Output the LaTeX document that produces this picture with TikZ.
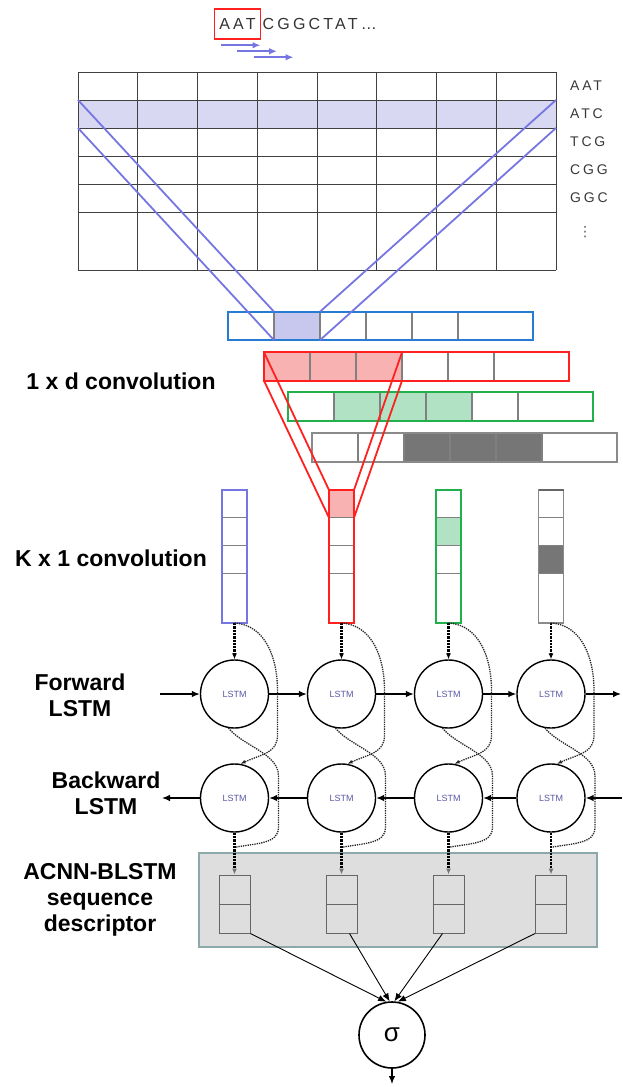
\documentclass[tikz,border=0pt]{standalone}
\usepackage{fontspec}
\setmainfont{Liberation Sans}
\newfontfamily\seqfont[LetterSpace=20]{Liberation Sans}
\newfontfamily\symfont{DejaVu Sans}
\usetikzlibrary{arrows.meta,positioning,calc}

\definecolor{convblue}{RGB}{38,124,210}
\definecolor{projblue}{RGB}{118,118,226}
\definecolor{rowfill}{RGB}{216,216,242}
\definecolor{cellblue}{RGB}{200,200,238}
\definecolor{convred}{RGB}{255,32,32}
\definecolor{cellred}{RGB}{248,178,178}
\definecolor{convgreen}{RGB}{34,176,76}
\definecolor{cellgreen}{RGB}{178,226,196}
\definecolor{convgray}{RGB}{138,138,138}
\definecolor{cellgray}{RGB}{118,118,118}
\definecolor{descfill}{RGB}{222,222,222}
\definecolor{descedge}{RGB}{140,168,168}
\definecolor{lstmtext}{RGB}{88,88,165}

\begin{document}
\begin{tikzpicture}[
  x=1pt, y=-1pt,
  >={Latex[length=8pt,width=6.5pt]},
  sidetext/.style={font=\fontsize{23}{26}\selectfont\bfseries, align=center},
  kmer/.style={font=\seqfont\fontsize{14}{14}\selectfont, text=black!78, anchor=west, inner sep=0pt},
  gridline/.style={draw=black!75, line width=1pt},
  divider/.style={draw=black!50, line width=1.4pt},
  proj/.style={draw=#1, line width=1.8pt},
  vecbox/.style={draw=#1, line width=2.2pt, minimum width=305pt, minimum height=28.4pt,
    inner sep=0pt, outer sep=0pt, anchor=north west},
  hitcell/.style={fill=#1, minimum height=28.4pt, inner sep=0pt, outer sep=0pt, anchor=north west},
  kcol/.style={draw=#1, line width=1.8pt, minimum width=25pt, minimum height=133pt,
    inner sep=0pt, outer sep=0pt, anchor=north},
  khit/.style={fill=#1, minimum width=25pt, minimum height=27.7pt, inner sep=0pt, outer sep=0pt, anchor=north},
  lstm/.style={circle, draw, line width=1.4pt, minimum size=68pt, inner sep=0pt,
    text=lstmtext, font=\fontsize{9}{9}\selectfont},
  flow/.style={->, line width=1.2pt},
  feeddot/.style={densely dotted, line width=2.3pt},
  bypass/.style={densely dotted, line width=1.3pt, black!85},
  pair/.style={draw=black!60, line width=1pt, minimum width=31pt, minimum height=58pt, inner sep=0pt}
]
\useasboundingbox (0,0) rectangle (622,1087);

% input sequence and sliding window
\node[font=\seqfont\fontsize{16}{16}\selectfont, text=black!80, draw=convred, line width=1.5pt,
  inner xsep=5pt, minimum height=30pt] (codon) at (237.5,24) {AAT};
\node[font=\seqfont\fontsize{16}{16}\selectfont, text=black!80, right=0pt of codon, inner xsep=1pt] (rest) {CGGCTAT\dots};
\foreach \i in {0,1,2}
  \draw[->, projblue, line width=1.6pt] ($(codon.south west)+(7+16.5*\i,5.5+6*\i)$) -- ++(40,0);

% embedding grid
\node[fill=rowfill, minimum width=478pt, minimum height=28pt, inner sep=0pt, outer sep=0pt,
  anchor=north west] (win) at (78,100) {};
\foreach \gx in {0,...,8}
  \draw[gridline] (78+59.75*\gx,72) -- (78+59.75*\gx,270);
\foreach \gy in {72,100,128,156,184,212,270}
  \draw[gridline] (78,\gy) -- (556,\gy);
\foreach \w [count=\i] in {AAT,ATC,TCG,CGG,GGC}
  \node[kmer] (k\i) at (570,{86+28*(\i-1)}) {\w};
\node[font=\symfont\fontsize{14}{14}\selectfont, text=black!65, inner sep=0pt] (kdots) at (585,232) {⋮};

% convolution rows
\foreach \vn/\vx/\vy/\vc/\sa/\sb/\fc in {bv/228/311.7/convblue/1/1/cellblue,
    rv/264/352.3/convred/0/2/cellred, gv/288/392.3/convgreen/1/3/cellgreen,
    kv/312/433.3/convgray/2/4/cellgray} {
  \node[hitcell=\fc, minimum width={46*(\sb-\sa+1)}] (\vn sel) at (\vx+46*\sa,\vy) {};
  \foreach \k in {1,...,5}
    \draw[divider] (\vx+46*\k,\vy) -- ++(0,28.4);
  \node[vecbox=\vc] (\vn) at (\vx,\vy) {};
}
\draw[proj=projblue] (win.north west) -- (bvsel.north west)
  (win.south west) -- (bvsel.south west)
  (win.north east) -- (bvsel.north east)
  (win.south east) -- (bvsel.south east);

% K x 1 columns
\foreach \i/\cx/\vc/\hit/\fc in {1/234.5/projblue/1/white, 2/341.5/convred/1/cellred,
    3/448.5/convgreen/2/cellgreen, 4/551/convgray/3/cellgray} {
  \node[khit=\fc] (hit\i) at (\cx,{490+27.7*(\hit-1)}) {};
  \foreach \k in {1,2,3}
    \draw[divider, line width=1.2pt] (\cx-12.5,490+27.7*\k) -- ++(25,0);
  \node[kcol=\vc] (col\i) at (\cx,490) {};
}
\draw[black!60, line width=2.4pt] (col4.north west) -- (col4.north east);
\draw[proj=convred] (rvsel.north west) -- (hit2.north west)
  (rvsel.south west) -- (hit2.south west)
  (rvsel.north east) -- (hit2.north east)
  (rvsel.south east) -- (hit2.south east);

% bidirectional LSTM
\foreach \i/\cx in {1/234.5, 2/341.5, 3/448.5, 4/551} {
  \node[lstm] (fw\i) at (\cx,694) {LSTM};
  \node[lstm] (bw\i) at (\cx,798) {LSTM};
}
\coordinate (fin) at (160,694);
\coordinate (fout) at (621,694);
\coordinate (bin) at (622,798);
\coordinate (bout) at (162,798);
\draw[flow] (fin) -- (fw1);
\draw[flow] (fw1) -- (fw2);
\draw[flow] (fw2) -- (fw3);
\draw[flow] (fw3) -- (fw4);
\draw[flow] (fw4) -- (fout);
\draw[flow] (bin) -- (bw4);
\draw[flow] (bw4) -- (bw3);
\draw[flow] (bw3) -- (bw2);
\draw[flow] (bw2) -- (bw1);
\draw[flow] (bw1) -- (bout);

% sequence descriptor
\node[fill=descfill, draw=descedge, line width=1.5pt, minimum width=398pt, minimum height=94pt] (desc) at (398,900) {};
\foreach \i/\cx in {1/234.5, 2/341.5, 3/448.5, 4/551} {
  \node[pair] (box\i) at (\cx,904) {};
  \draw[black!60, line width=1pt] (box\i.west) -- (box\i.east);
}

% dotted feeds between layers
\foreach \i in {1,...,4} {
  \draw[feeddot, -{Latex[length=6pt,width=5pt]}] (col\i.south) -- (fw\i.north);
  \draw[bypass, -{Latex[length=5pt,width=4pt]}] (col\i.south) .. controls +(32,2) and +(0,-30) .. ++(43,67)
    -- ++(0,45) .. controls +(0,18) and +(22,-10) .. (bw\i.80);
  \coordinate (join\i) at ($(bw\i.south)!0.35!(box\i.north)$);
  \draw[bypass] (fw\i.-100) .. controls +(15,18) and +(0,-22) .. ++(50,47.5)
    -- ++(0,52) .. controls +(0,16) and +(22,-4) .. (join\i);
  \draw[feeddot, -{Latex[length=6pt,width=5pt,color=black!55]}] (bw\i.south) -- (box\i.north);
}

% output unit
\node[circle, draw, line width=1.6pt, minimum size=66pt, inner sep=0pt,
  font=\fontsize{26}{26}\selectfont] (sig) at (392,1035) {σ};
\draw[->, line width=0.9pt] (box1.south east) -- (sig.100);
\draw[->, line width=0.9pt] ([xshift=8pt]box2.south) -- (sig.94);
\draw[->, line width=0.9pt] ([xshift=-6pt]box3.south) -- (sig.86);
\draw[->, line width=0.9pt] (box4.south west) -- (sig.80);
\coordinate (out) at (392,1084);
\draw[flow] (sig) -- (out);

% side captions
\node[sidetext] (lab1xd) at (121,381) {1 x d convolution};
\node[sidetext] (labkx1) at (111,558) {K x 1 convolution};
\node[sidetext] (labfw) at (80,695) {Forward\\LSTM};
\node[sidetext] (labbw) at (106,793) {Backward\\LSTM};
\node[sidetext] (labdesc) at (100,900) {ACNN-BLSTM\\sequence\\descriptor};
\end{tikzpicture}
\end{document}
